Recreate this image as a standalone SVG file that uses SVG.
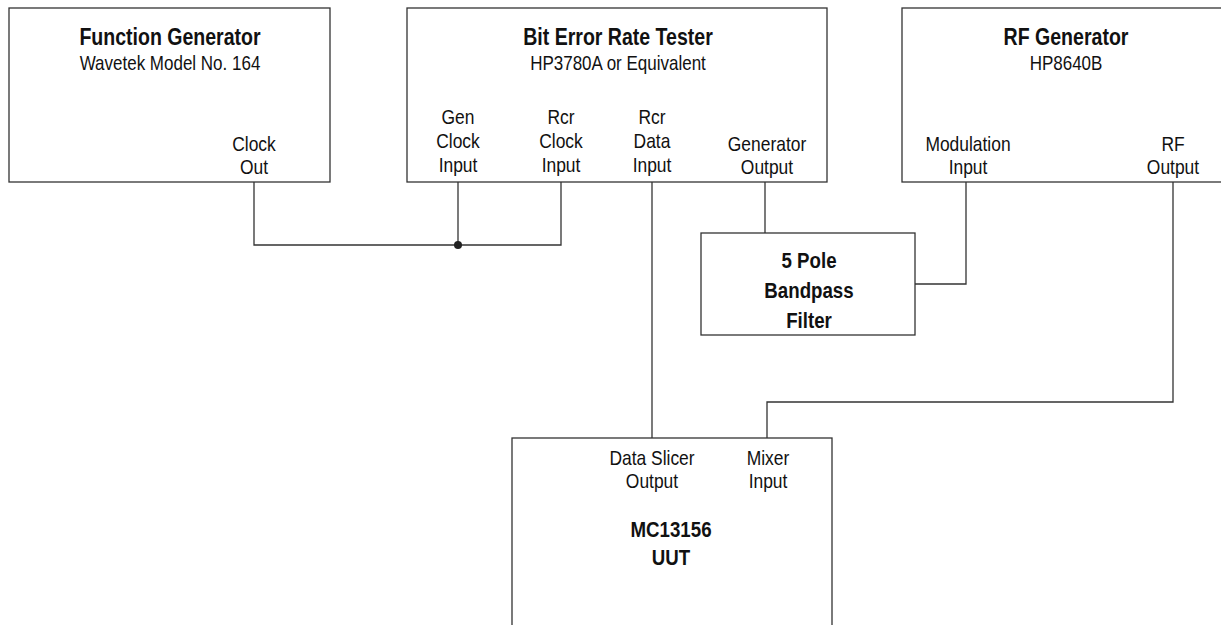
<svg xmlns="http://www.w3.org/2000/svg" width="1221" height="625" viewBox="0 0 1221 625">
<style>
.box{fill:#fff;stroke:#333;stroke-width:1.3}
.w{stroke:#333;stroke-width:1.3;fill:none}
text{font-family:"Liberation Sans",Arial,Helvetica,sans-serif;fill:#111;text-anchor:middle}
.t{font-size:23px;font-weight:bold}
.b{font-size:22px;font-weight:bold}
.s{font-size:20px}
.p{font-size:20.5px}
</style>
<rect width="1221" height="625" fill="#fff"/>
<g id="connectors">
<polyline class="w" points="254,182 254,245 561,245 561,182"/>
<line class="w" x1="458" y1="182" x2="458" y2="245"/>
<circle cx="458" cy="245" r="4" fill="#222"/>
<line class="w" x1="652" y1="182" x2="652" y2="438"/>
<line class="w" x1="765" y1="182" x2="765" y2="233"/>
<polyline class="w" points="966,182 966,284 915,284"/>
<polyline class="w" points="1173,182 1173,402 767,402 767,438"/>
</g>
<g id="function-generator">
<rect class="box" x="9" y="8" width="321" height="174"/>
<text class="t" transform="translate(170 45) scale(0.85 1)">Function Generator</text>
<text class="s" transform="translate(170 70) scale(0.85 1)">Wavetek Model No. 164</text>
<text class="p" transform="translate(254 151) scale(0.85 1)">Clock</text>
<text class="p" transform="translate(254 174) scale(0.85 1)">Out</text>
</g>
<g id="bert">
<rect class="box" x="407" y="8" width="420" height="174"/>
<text class="t" transform="translate(618 45) scale(0.85 1)">Bit Error Rate Tester</text>
<text class="s" transform="translate(618 70) scale(0.85 1)">HP3780A or Equivalent</text>
<text class="p" transform="translate(458 124) scale(0.85 1)">Gen</text>
<text class="p" transform="translate(458 148) scale(0.85 1)">Clock</text>
<text class="p" transform="translate(458 172) scale(0.85 1)">Input</text>
<text class="p" transform="translate(561 124) scale(0.85 1)">Rcr</text>
<text class="p" transform="translate(561 148) scale(0.85 1)">Clock</text>
<text class="p" transform="translate(561 172) scale(0.85 1)">Input</text>
<text class="p" transform="translate(652 124) scale(0.85 1)">Rcr</text>
<text class="p" transform="translate(652 148) scale(0.85 1)">Data</text>
<text class="p" transform="translate(652 172) scale(0.85 1)">Input</text>
<text class="p" transform="translate(767 151) scale(0.85 1)">Generator</text>
<text class="p" transform="translate(767 174) scale(0.85 1)">Output</text>
</g>
<g id="rf-generator">
<rect class="box" x="902" y="8" width="330" height="174"/>
<text class="t" transform="translate(1066 45) scale(0.85 1)">RF Generator</text>
<text class="s" transform="translate(1066 70) scale(0.85 1)">HP8640B</text>
<text class="p" transform="translate(968 151) scale(0.85 1)">Modulation</text>
<text class="p" transform="translate(968 174) scale(0.85 1)">Input</text>
<text class="p" transform="translate(1173 151) scale(0.85 1)">RF</text>
<text class="p" transform="translate(1173 174) scale(0.85 1)">Output</text>
</g>
<g id="filter">
<rect class="box" x="701" y="233" width="214" height="102"/>
<text class="b" transform="translate(809 268) scale(0.85 1)">5 Pole</text>
<text class="b" transform="translate(809 298) scale(0.85 1)">Bandpass</text>
<text class="b" transform="translate(809 328) scale(0.85 1)">Filter</text>
</g>
<g id="uut">
<rect class="box" x="512" y="438" width="320" height="200"/>
<text class="p" transform="translate(652 465) scale(0.85 1)">Data Slicer</text>
<text class="p" transform="translate(652 488) scale(0.85 1)">Output</text>
<text class="p" transform="translate(768 465) scale(0.85 1)">Mixer</text>
<text class="p" transform="translate(768 488) scale(0.85 1)">Input</text>
<text class="b" transform="translate(671 537) scale(0.85 1)">MC13156</text>
<text class="b" transform="translate(671 565) scale(0.85 1)">UUT</text>
</g>
</svg>
